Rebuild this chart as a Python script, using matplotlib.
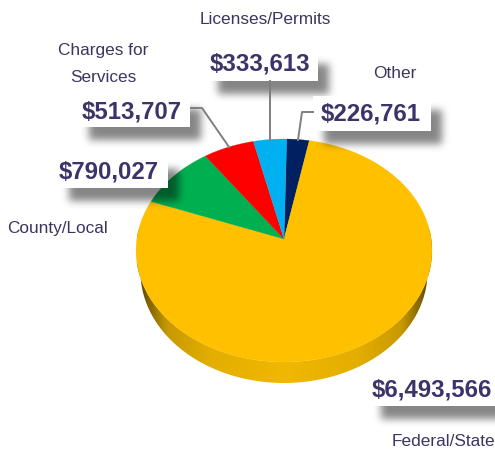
import numpy as np
import matplotlib
matplotlib.use('Agg')
import matplotlib.pyplot as plt
from matplotlib.colors import LinearSegmentedColormap
from matplotlib.patches import Polygon, Rectangle

plt.rcParams['font.family'] = ['Liberation Sans', 'DejaVu Sans']

# clockwise from the top of the pie
categories = ['Other', 'Federal/State', 'County/Local', 'Charges for\nServices', 'Licenses/Permits']
values = [226761, 6493566, 790027, 513707, 333613]
colours = ['#002060', '#FFC000', '#00B050', '#FF0000', '#00B0F0']

W, H = 495, 449
cx, cy = 284, 239   # pixel position of the apex
rx, ry = 147.2, 110.3
persp = 0.103
depth = 21
start = 0.02

text_col = '#3A3660'
value_col = '#3B3468'
line_col = '#7F7F7F'


def project(t):
    # t = clockwise angle from the back of the pie
    d = 1 + persp * np.cos(t)
    return cx + rx * np.sin(t) / d, cy - ry * np.cos(t) / d


def blur(a, s):
    k = np.exp(-0.5 * (np.arange(-3 * s, 3 * s + 1) / s) ** 2)
    k = k / k.sum()
    a = np.apply_along_axis(lambda v: np.convolve(v, k, mode='same'), 0, a)
    a = np.apply_along_axis(lambda v: np.convolve(v, k, mode='same'), 1, a)
    return a


fig = plt.figure(figsize=(W / 100, H / 100), dpi=100)
ax = fig.add_axes([0, 0, 1, 1])
ax.set_xlim(0, W)
ax.set_ylim(H, 0)
ax.axis('off')

# side of the pie, gradient clipped to the outline
side = LinearSegmentedColormap.from_list('side', [(0, '#4A3A00'), (0.03, '#7A5E00'), (0.1, '#C89A00'),
                                                  (0.25, '#E4AE00'), (0.5, '#F0B800'), (0.75, '#E4AE00'),
                                                  (0.9, '#C89A00'), (0.97, '#7A5E00'), (1, '#4A3A00')])
ts = np.linspace(np.pi / 2 - 0.15, 3 * np.pi / 2 + 0.15, 300)
xt, yt = project(ts)
xl = cx + (xt - cx) * 0.97
yl = yt + depth
outline = Polygon(np.column_stack([np.r_[xt, xl[::-1]], np.r_[yt, yl[::-1]]]), transform=ax.transData,
                  facecolor='none', edgecolor='none')
ax.add_patch(outline)
im = ax.imshow(np.linspace(0, 1, 300).reshape(1, -1), cmap=side, extent=(cx - rx, cx + rx, 400, 230),
               aspect='auto', zorder=1, interpolation='bilinear')
im.set_clip_path(outline)
ax.set_xlim(0, W)
ax.set_ylim(H, 0)

# top of the pie
frac = 2 * np.pi * np.array(values) / sum(values)
t0 = start
for v, col in zip(frac, colours):
    t = np.linspace(t0, t0 + v, 200)
    x, y = project(t)
    ax.add_patch(Polygon(np.column_stack([np.r_[cx, x], np.r_[cy, y]]), facecolor=col,
                         edgecolor=col, lw=0.2, zorder=2))
    t0 = t0 + v

# value boxes, left top right bottom
boxes = [(313, 96, 431, 131), (370, 372, 497, 406), (58, 155, 168, 188), (78, 95, 190, 127), (207, 50, 318, 81)]
value_pos = [(371, 114.5), (432, 389.5), (109, 171.5), (132, 111.5), (260, 64.5)]
label_pos = [(394.5, 74), (443, 441), (58, 229), (103, 64), (265.5, 19)]

# drop shadows
shadow = np.zeros((H, W))
for l, t, r, b in boxes:
    m = np.zeros((H + 40, W + 40))
    m[t + 14:b + 13, l + 11:r + 11] = 1
    shadow = np.maximum(shadow, m[:H, :W])
shadow = blur(np.pad(shadow, 20, mode='edge'), 4)[20:-20, 20:-20]
rgba = np.zeros((H, W, 4))
rgba[..., 3] = shadow * 0.48
ax.imshow(rgba, extent=(0, W, H, 0), zorder=3, interpolation='nearest', aspect='auto')
ax.set_xlim(0, W)
ax.set_ylim(H, 0)

for (l, t, r, b) in boxes:
    ax.add_patch(Rectangle((l, t), r - l, b - t, facecolor='white', edgecolor='none', zorder=4))

# leader lines
ax.plot([270, 270], [81, 140], color=line_col, lw=1.4, zorder=5)
ax.plot([191, 202, 229], [108, 108, 147], color=line_col, lw=1.4, zorder=5)
ax.plot([313, 302, 298], [112, 112, 140], color=line_col, lw=1.4, zorder=5)

for v, (x, y) in zip(values, value_pos):
    ax.text(x, y, '${:,}'.format(v), ha='center', va='center', fontsize=17.3, fontweight='bold',
            color=value_col, zorder=6)

for name, (x, y) in zip(categories, label_pos):
    ax.text(x, y, name, ha='center', va='center', fontsize=12.4, color=text_col, linespacing=2.05, zorder=6)

fig.savefig('out.png', dpi=100)
